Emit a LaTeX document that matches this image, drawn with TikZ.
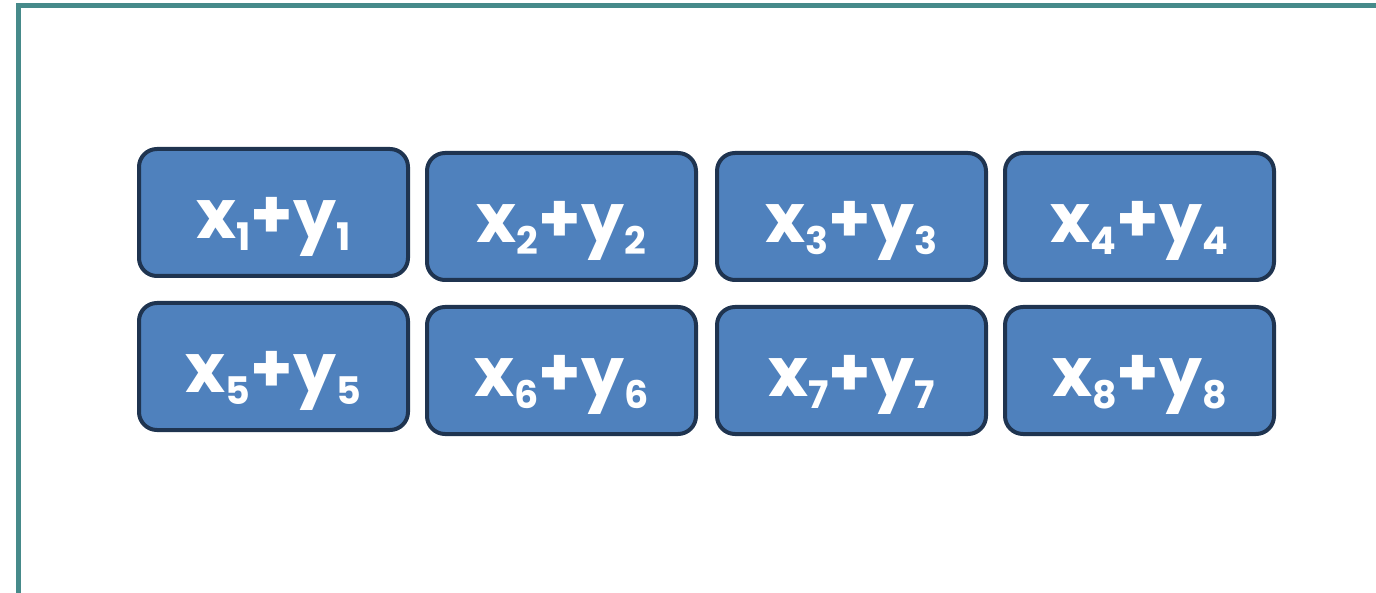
\documentclass[tikz,border=0pt]{standalone}
\usepackage{fontspec}
\newfontfamily\cellfont{Poppins}
\usetikzlibrary{positioning}
\definecolor{cellblue}{HTML}{4F81BD}
\definecolor{celledge}{HTML}{1F3450}
\definecolor{frameteal}{HTML}{468A8A}
\newcommand{\cellidx}[1]{\raisebox{-12pt}[0pt][0pt]{\fontsize{38}{38}\selectfont #1}}

\begin{document}
\begin{tikzpicture}[
    x=1pt, y=-1pt,
    node distance=23pt and 15pt,
    cell/.style={rectangle, rounded corners=18pt, draw=celledge, line width=4pt, fill=cellblue, minimum width=269pt, minimum height=127pt, text height=52pt, text depth=0pt, text=white, font=\cellfont\bfseries\fontsize{68}{68}\selectfont}
]
\useasboundingbox (0,0) rectangle (1376,593);

% frame
\draw[frameteal, line width=5pt] (18,593) -- (18,5.5) -- (1376,5.5);

% first row
\node[cell] (c1) at (273.5,212.5) {x\cellidx{1}+y\cellidx{1}};
\node[cell, right=of c1, yshift=-4pt] (c2) {x\cellidx{2}+y\cellidx{2}};
\node[cell, right=17pt of c2] (c3) {x\cellidx{3}+y\cellidx{3}};
\node[cell, right=of c3] (c4) {x\cellidx{4}+y\cellidx{4}};

% second row
\node[cell, below=of c1] (c5) {x\cellidx{5}+y\cellidx{5}};
\node[cell, below=of c2] (c6) {x\cellidx{6}+y\cellidx{6}};
\node[cell, below=of c3] (c7) {x\cellidx{7}+y\cellidx{7}};
\node[cell, below=of c4] (c8) {x\cellidx{8}+y\cellidx{8}};

\end{tikzpicture}
\end{document}
